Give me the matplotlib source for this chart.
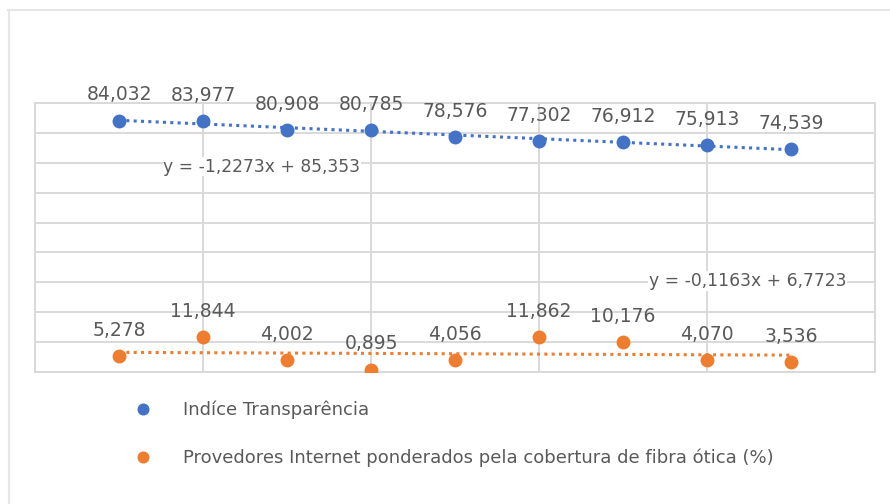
import matplotlib.pyplot as plt
from matplotlib.lines import Line2D
import numpy as np

# data
pos = np.arange(1, 10)
transparencia = [84.032, 83.977, 80.908, 80.785, 78.576, 77.302, 76.912, 75.913, 74.539]
provedores = [5.278, 11.844, 4.002, 0.895, 4.056, 11.862, 10.176, 4.070, 3.536]
serie_nomes = ["Indíce Transparência",
               "Provedores Internet ponderados pela cobertura de fibra ótica (%)"]
eq_textos = ["y = -1,2273x + 85,353", "y = -0,1163x + 6,7723"]
eq_pos = [(2.70, 68.6), (8.48, 30.5)]

azul = "#4472C4"
laranja = "#ED7D31"
cinza_txt = "#595959"
cinza_grid = "#D9D9D9"

fig = plt.figure(figsize=(8.9, 5.04), dpi=100)
ax = fig.add_axes([35 / 890, 1 - 372.3 / 504, 840 / 890, 269.6 / 504])

ax.set_xlim(0, 10)
ax.set_ylim(0, 90)
ax.set_xticks(np.arange(0, 11, 2))
ax.set_yticks(np.arange(0, 91, 10))
ax.grid(True, color=cinza_grid, linewidth=1.4)
ax.tick_params(length=0, labelbottom=False, labelleft=False)
for s in ax.spines.values():
    s.set_color(cinza_grid)
    s.set_linewidth(1.4)
ax.set_axisbelow(True)

handles = []
for vals, cor, nome in [(transparencia, azul, serie_nomes[0]),
                        (provedores, laranja, serie_nomes[1])]:
    # linear trendline
    a, b = np.polyfit(pos, vals, 1)
    ax.plot(pos, a * pos + b, linestyle=(0, (1, 1.4)), color=cor, linewidth=2.2, zorder=2)
    h, = ax.plot(pos, vals, linestyle="none", marker="o", markersize=9,
                 color=cor, zorder=3, label=nome)
    handles.append(h)
    for xi, yi in zip(pos, vals):
        ax.annotate(f"{yi:.3f}".replace(".", ","), (xi, yi), xytext=(0, 18.5),
                    textcoords="offset points", ha="center", va="center",
                    fontsize=13.5, color=cinza_txt, zorder=4)

for txt, (ex, ey) in zip(eq_textos, eq_pos):
    ax.text(ex, ey, txt, ha="center", va="center", fontsize=12.3, color=cinza_txt,
            bbox=dict(facecolor="white", edgecolor="none", pad=0.5), zorder=4)

fig.legend(handles=handles, loc="center left", bbox_to_anchor=(125 / 890, 1 - 434 / 504),
           frameon=False, fontsize=13, labelcolor=cinza_txt, handlelength=1.0,
           handletextpad=1.7, labelspacing=1.65, markerscale=0.85, borderpad=0)

# faint outer chart frame
fig.add_artist(Line2D([8 / 890, 1], [1 - 10 / 504] * 2, color="#E6E6E6", linewidth=1.5))
fig.add_artist(Line2D([9 / 890] * 2, [0, 1 - 10 / 504], color="#E6E6E6", linewidth=1.5))

fig.savefig("out.png", dpi=100)
